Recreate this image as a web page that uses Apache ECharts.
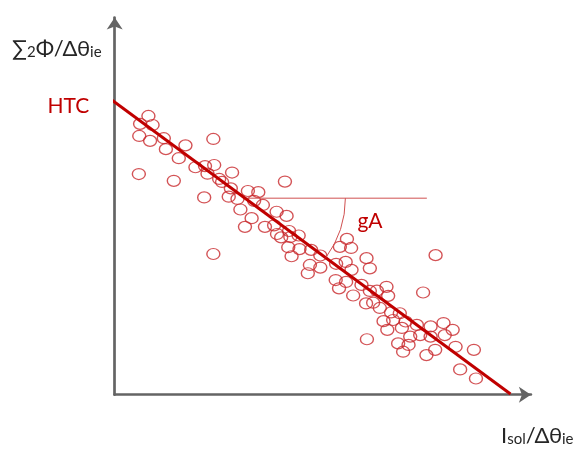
<!DOCTYPE html>
<html>
<head>
<meta charset="utf-8">
<script src="https://cdn.jsdelivr.net/npm/echarts@6/dist/echarts.min.js"></script>
<style>
  html, body { margin: 0; padding: 0; background: #ffffff; }
  #chart { width: 576px; height: 452px; }
</style>
</head>
<body>
<div id="chart"></div>
<script>
// Measured points: solar gain per temperature difference vs. heat flux per temperature difference
const obsX = [8.1, 6.1, 9.1, 5.9, 8.5, 11.8, 12.3, 17.0, 23.7, 15.4, 5.8, 14.2, 19.4, 21.7, 23.9, 22.3,
  25.1, 28.2, 21.5, 27.4, 27.9, 40.9, 32.0, 34.5, 29.5, 33.5, 35.6, 30.2, 32.9, 38.9, 41.3, 31.3,
  36.1, 38.3, 39.0, 40.0, 41.9, 44.2, 42.2, 41.7, 44.4, 42.5, 23.7, 47.2, 49.4, 54.1, 55.8, 56.8,
  46.9, 46.4, 49.4, 53.2, 55.5, 56.9, 60.5, 61.3, 53.1, 55.6, 53.9, 59.3, 57.3, 63.0, 65.3, 65.7,
  60.4, 62.1, 63.7, 66.4, 68.5, 69.9, 72.6, 64.6, 65.5, 69.0, 71.0, 75.9, 79.0, 79.3, 75.9, 68.1,
  70.6, 69.3, 60.6, 74.9, 77.0, 81.2, 73.4, 81.9, 86.3, 83.0, 86.8, 77.1, 74.1, 25.8, 66.9, 61.3];
const obsY = [73.9, 71.8, 71.5, 68.6, 67.3, 68.0, 65.1, 66.1, 67.8, 62.7, 58.5, 56.7, 60.3, 60.6, 60.9, 58.6,
  57.2, 58.9, 52.3, 52.5, 54.7, 56.5, 54.0, 53.7, 51.9, 51.4, 50.3, 49.1, 46.8, 48.5, 47.4, 44.5,
  44.5, 44.9, 42.6, 41.7, 43.4, 42.2, 41.8, 39.1, 38.6, 36.7, 37.3, 38.4, 36.9, 39.2, 41.3, 38.9,
  34.4, 32.2, 33.7, 34.7, 35.2, 33.1, 36.2, 33.5, 30.4, 29.9, 28.2, 29.1, 26.3, 27.6, 28.6, 26.2,
  24.2, 24.4, 23.0, 21.8, 21.6, 19.4, 18.5, 19.5, 17.2, 17.7, 15.4, 18.1, 19.0, 15.8, 15.4, 13.6,
  13.2, 11.4, 14.7, 10.5, 11.9, 17.2, 15.8, 12.7, 11.9, 6.7, 4.3, 37.0, 27.1, 56.4, 19.8, 27.5];

// Fitted straight line (end points)
const fitX = [-1.4, 95.1];
const fitY = [78.7, 0.2];

// Horizontal reference used to mark the slope angle
const refX = [31.4, 75.0];
const refY = [52.1, 52.1];

const axisMax = [100, 100];
const interceptName = 'HTC';
const slopeName = 'gA';

const FONT = "Lato, 'Open Sans', 'DejaVu Sans', sans-serif";
const RED = '#C00000';
const AXIS = '#646464';

const chart = echarts.init(document.getElementById('chart'), null, { renderer: 'canvas' });

const axisCommon = {
  type: 'value',
  min: 0,
  axisLine: {
    show: true,
    symbol: ['none', 'arrow'],
    symbolSize: [12, 12],
    lineStyle: { color: AXIS, width: 2.7 }
  },
  axisTick: { show: false },
  axisLabel: { show: false },
  splitLine: { show: false }
};

chart.setOption({
  animation: false,
  backgroundColor: '#ffffff',
  grid: { left: 114.7, right: 45.1, top: 17.5, bottom: 57.3, containLabel: false },
  xAxis: Object.assign({}, axisCommon, { max: axisMax[0] }),
  yAxis: Object.assign({}, axisCommon, { max: axisMax[1] }),
  series: [
    {
      type: 'scatter',
      data: obsX.map((x, i) => [x, obsY[i]]),
      symbol: 'circle',
      symbolSize: [13, 11],
      itemStyle: { color: 'rgba(255,255,255,0)', borderColor: '#C8282C', borderWidth: 1.3 },
      z: 2
    },
    {
      type: 'line',
      data: refX.map((x, i) => [x, refY[i]]),
      symbol: 'none',
      lineStyle: { color: '#D05050', width: 1 },
      z: 3
    },
    {
      type: 'line',
      data: fitX.map((x, i) => [x, fitY[i]]),
      symbol: 'none',
      clip: false,
      lineStyle: { color: RED, width: 3 },
      z: 4
    }
  ]
});

// Annotations placed from the axis scales
const p0 = chart.convertToPixel({ gridIndex: 0 }, [fitX[0], fitY[0]]);
const p1 = chart.convertToPixel({ gridIndex: 0 }, [fitX[1], fitY[1]]);
const vertex = chart.convertToPixel({ gridIndex: 0 }, [refX[0], refY[0]]);
const interceptY = fitY[0] + (0 - fitX[0]) * (fitY[1] - fitY[0]) / (fitX[1] - fitX[0]);
const hPix = chart.convertToPixel({ gridIndex: 0 }, [0, interceptY]);
const angle = Math.atan2(p1[1] - p0[1], p1[0] - p0[0]);

chart.setOption({
  graphic: [
    {
      type: 'arc',
      shape: { cx: vertex[0], cy: vertex[1], r: 100, startAngle: 0, endAngle: angle, clockwise: true },
      style: { stroke: '#D05050', lineWidth: 1, fill: null },
      z: 5
    },
    {
      type: 'text',
      x: vertex[0] + 112, y: vertex[1] + 23,
      style: { text: slopeName, fill: RED, font: '21px ' + FONT, textAlign: 'left', textVerticalAlign: 'middle' },
      z: 6
    },
    {
      type: 'text',
      x: hPix[0] - 25.5, y: hPix[1] + 4.5,
      style: { text: interceptName, fill: RED, font: '21px ' + FONT, textAlign: 'right', textVerticalAlign: 'middle' },
      z: 6
    },
    {
      type: 'text',
      x: 12, y: 36,
      style: {
        text: '{m|∑}{s|2}{m|Φ/Δθ}{s|ie}',
        textAlign: 'left',
        textVerticalAlign: 'top',
        rich: {
          m: { fontFamily: FONT, fontSize: 22, lineHeight: 24, verticalAlign: 'bottom', fill: '#262626' },
          s: { fontFamily: FONT, fontSize: 15, lineHeight: 15, verticalAlign: 'bottom', fill: '#262626' }
        }
      },
      z: 6
    },
    {
      type: 'text',
      x: 501, y: 423,
      style: {
        text: '{m|I}{s|sol}{m|/Δθ}{s|ie}',
        textAlign: 'left',
        textVerticalAlign: 'top',
        rich: {
          m: { fontFamily: FONT, fontSize: 22, lineHeight: 24, verticalAlign: 'bottom', fill: '#262626' },
          s: { fontFamily: FONT, fontSize: 15, lineHeight: 8, verticalAlign: 'bottom', fill: '#262626' }
        }
      },
      z: 6
    }
  ]
});
</script>
</body>
</html>
